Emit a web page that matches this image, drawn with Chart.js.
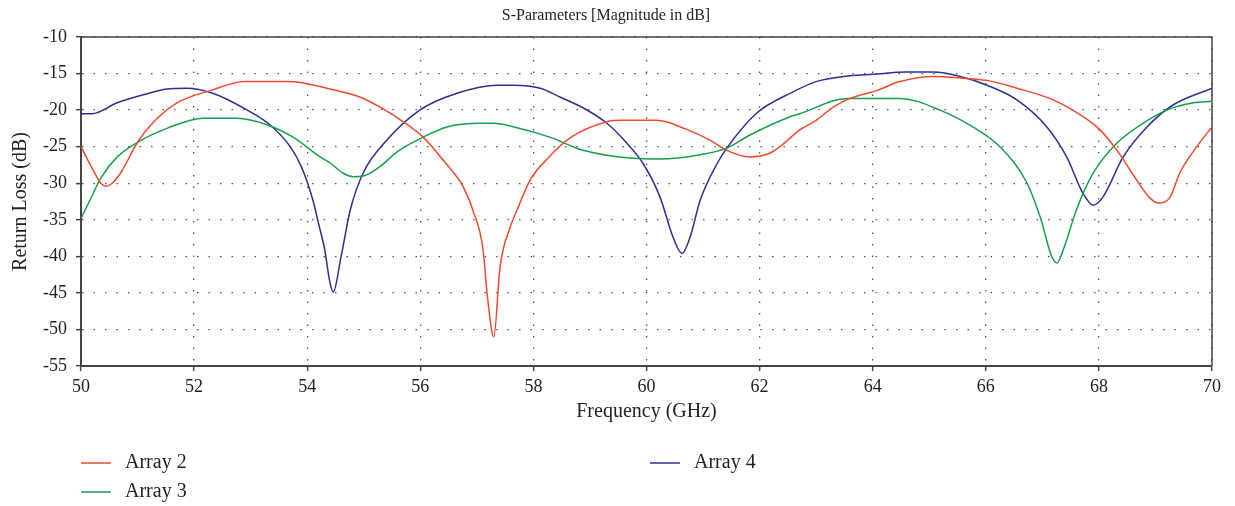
<!DOCTYPE html>
<html>
<head>
<meta charset="utf-8">
<title>S-Parameters</title>
<script src="https://cdn.jsdelivr.net/npm/chart.js@4.4.1/dist/chart.umd.min.js"></script>
<style>
  html, body { margin: 0; padding: 0; background: #fff; }
  #wrap { width: 1235px; height: 506px; position: relative; }
</style>
</head>
<body>
<div id="wrap"><canvas id="sparChart" width="1235" height="506"></canvas></div>
<script>
// ---------------------------------------------
// Data (GHz / dB)
// ---------------------------------------------
const seriesLabels = ["Array 2", "Array 3", "Array 4"];

const freqA2 = [50.0, 50.2, 50.35, 50.44, 50.55, 50.7, 51.0, 51.3, 51.7, 52.3, 52.9, 53.66, 54.4, 54.93, 55.29, 55.7,
  56.05, 56.4, 56.76, 56.93, 57.11, 57.18, 57.3, 57.41, 57.59, 57.71, 57.94, 58.29, 58.65, 59.3, 59.58, 60.18,
  60.7, 61.12, 61.42, 61.83, 62.18, 62.36, 62.71, 63.0, 63.3, 63.6, 64.08, 64.48, 65.07, 65.55, 66.07, 66.55,
  67.19, 67.72, 68.02, 68.32, 68.67, 68.9, 69.05, 69.26, 69.43, 69.73, 70.0];
const lossA2 = [-25.0, -28.0, -30.0, -30.4, -30.0, -28.6, -24.4, -21.5, -19.0, -17.3, -16.1, -16.1, -17.1, -18.2, -19.6, -21.6,
  -23.7, -26.8, -30.5, -33.7, -39.1, -45.0, -51.0, -41.5, -36.0, -33.7, -29.6, -26.3, -23.8, -21.6, -21.4, -21.4,
  -22.6, -24.1, -25.5, -26.4, -25.9, -25.0, -22.7, -21.4, -19.6, -18.4, -17.3, -16.1, -15.4, -15.6, -16.0, -17.0,
  -18.6, -20.9, -22.7, -25.5, -29.6, -32.0, -32.7, -31.9, -28.6, -25.0, -22.3];

const freqA3 = [50.0, 50.16, 50.35, 50.64, 51.0, 51.52, 52.16, 52.76, 53.29, 53.75, 54.23, 54.4, 54.63, 54.81, 54.99,
  55.29, 55.59, 56.05, 56.47, 57.06, 57.29, 57.71, 58.29, 58.88, 59.76, 60.24, 60.95, 61.42, 61.83, 62.54, 62.71,
  63.55, 64.48, 65.19, 65.77, 66.25, 66.73, 66.96, 67.17, 67.26, 67.37, 67.6, 67.9, 68.32, 68.78, 69.2, 69.67, 70.0];
const lossA3 = [-34.8, -32.3, -29.3, -26.4, -24.4, -22.5, -21.1, -21.1, -22.0, -23.7, -26.4, -27.2, -28.6, -29.1, -29.0,
  -27.7, -25.7, -23.7, -22.3, -21.8, -21.8, -22.4, -23.7, -25.5, -26.6, -26.7, -26.1, -25.2, -23.4, -20.9, -20.5,
  -18.4, -18.4, -20.0, -22.3, -25.0, -30.0, -34.6, -40.1, -40.9, -39.1, -33.7, -28.6, -24.5, -21.8, -20.0, -19.0, -18.8];

const freqA4 = [50.0, 50.19, 50.64, 51.1, 51.52, 51.87, 52.33, 52.94, 53.34, 53.7, 53.9, 54.1, 54.2, 54.31, 54.4, 54.46,
  54.6, 54.76, 54.99, 55.41, 55.99, 56.65, 57.36, 57.65, 58.12, 58.47, 58.88, 59.3, 59.65, 59.94, 60.24, 60.47,
  60.63, 60.77, 60.95, 61.25, 61.42, 61.95, 62.54, 63.0, 63.6, 64.0, 64.6, 65.07, 65.55, 66.02, 66.55, 67.08,
  67.43, 67.72, 67.9, 68.07, 68.43, 68.85, 69.31, 70.0];
const lossA4 = [-20.5, -20.5, -19.0, -17.9, -17.1, -17.0, -17.7, -20.0, -22.0, -25.0, -27.8, -32.3, -35.5, -39.1, -43.5, -44.9,
  -40.0, -33.7, -28.6, -24.1, -20.0, -17.7, -16.6, -16.6, -17.0, -18.2, -19.7, -21.8, -24.5, -27.3, -31.9, -37.4,
  -39.6, -37.4, -32.3, -27.3, -25.2, -20.4, -17.7, -16.1, -15.3, -15.1, -14.8, -14.8, -15.4, -16.6, -18.6, -22.3,
  -26.4, -31.4, -33.0, -31.9, -26.4, -22.3, -19.3, -17.0];

const seriesColors = ["#ef4a2d", "#16a04c", "#2c3092"];

// ---------------------------------------------
// Helpers
// ---------------------------------------------
const SERIF = "'Liberation Serif', 'DejaVu Serif', serif";

function toPoints(xs, ys) {
  return xs.map((x, i) => ({ x: x, y: ys[i] }));
}

// top + right edges of the plot frame
const framePlugin = {
  id: "frame",
  beforeDatasetsDraw(chart) {
    const { ctx, chartArea: a } = chart;
    ctx.save();
    ctx.strokeStyle = "#444";
    ctx.lineWidth = 1.5;
    ctx.beginPath();
    ctx.moveTo(a.left, a.top);
    ctx.lineTo(a.right, a.top);
    ctx.lineTo(a.right, a.bottom);
    ctx.stroke();
    ctx.restore();
  }
};

// legend laid out like the original (two columns under the plot)
const legendSlots = [{ x: 81, y: 463 }, { x: 81, y: 492 }, { x: 650, y: 463 }];
const legendPlugin = {
  id: "bottomLegend",
  afterDraw(chart) {
    const ctx = chart.ctx;
    ctx.save();
    ctx.font = "20px " + SERIF;
    ctx.textBaseline = "middle";
    ctx.textAlign = "left";
    chart.data.datasets.forEach((ds, i) => {
      const s = legendSlots[i];
      ctx.strokeStyle = ds.borderColor;
      ctx.lineWidth = 1.5;
      ctx.beginPath();
      ctx.moveTo(s.x, s.y);
      ctx.lineTo(s.x + 30, s.y);
      ctx.stroke();
      ctx.fillStyle = "#222";
      ctx.fillText(ds.label, s.x + 44, s.y);
    });
    ctx.restore();
  }
};

// ---------------------------------------------
// Chart
// ---------------------------------------------
const gridOpts = {
  color: "#555",
  lineWidth: 1.3,
  drawTicks: true,
  tickLength: 5,
  tickColor: "#444",
  tickWidth: 1.5,
  tickBorderDash: []
};
// v4: border.dash is what dashes the grid lines
const borderOpts = { display: true, color: "#444", width: 2, dash: [1.5, 10] };

const ctx = document.getElementById("sparChart");
const chart = new Chart(ctx, {
  type: "line",
  data: {
    datasets: [
      { label: seriesLabels[0], data: toPoints(freqA2, lossA2) },
      { label: seriesLabels[1], data: toPoints(freqA3, lossA3) },
      { label: seriesLabels[2], data: toPoints(freqA4, lossA4) }
    ].map((d, i) => Object.assign(d, {
      borderColor: seriesColors[i],
      backgroundColor: seriesColors[i],
      borderWidth: 1.5,
      pointRadius: 0,
      fill: false,
      cubicInterpolationMode: "monotone"
    }))
  },
  options: {
    responsive: false,
    animation: false,
    devicePixelRatio: 1,
    layout: { padding: { left: 0, right: 23, top: 0, bottom: 80 } },
    plugins: {
      legend: { display: false },
      tooltip: { enabled: false },
      title: {
        display: true,
        text: "S-Parameters [Magnitude in dB]",
        color: "#222",
        font: { family: SERIF, size: 16, weight: "normal" },
        padding: { top: 6, bottom: 11.8 }
      }
    },
    scales: {
      x: {
        type: "linear",
        min: 50,
        max: 70,
        ticks: { stepSize: 2, color: "#222", padding: 5, maxRotation: 0, font: { family: SERIF, size: 18 } },
        grid: gridOpts,
        border: borderOpts,
        title: {
          display: true,
          text: "Frequency (GHz)",
          color: "#222",
          font: { family: SERIF, size: 20 },
          padding: { top: 0, bottom: 2 }
        },
        afterFit(scale) { scale.height = 60; }
      },
      y: {
        min: -55,
        max: -10,
        ticks: { stepSize: 5, color: "#222", padding: 9, font: { family: SERIF, size: 18 } },
        grid: gridOpts,
        border: borderOpts,
        title: {
          display: true,
          text: "Return Loss (dB)",
          color: "#222",
          font: { family: SERIF, size: 20 },
          padding: { top: 9, bottom: 0 }
        },
        afterFit(scale) { scale.width = 81; }
      }
    }
  },
  plugins: [framePlugin, legendPlugin]
});
</script>
</body>
</html>
